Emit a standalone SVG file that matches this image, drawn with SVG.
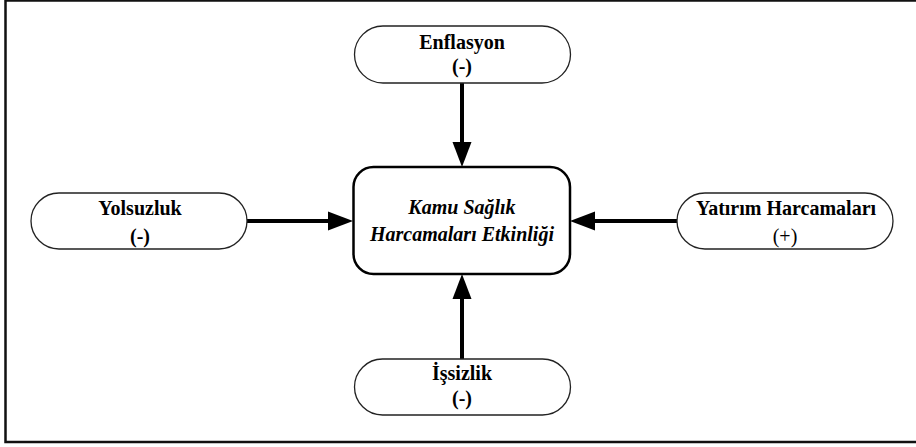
<svg xmlns="http://www.w3.org/2000/svg" width="916" height="447" viewBox="0 0 916 447">
<style>
.pill{fill:#fff;stroke:#222;stroke-width:1.3}
.main{fill:#fff;stroke:#000;stroke-width:2.5}
text{font-family:'Liberation Serif','Tinos','DejaVu Serif',serif;font-size:20px;font-weight:bold;fill:#000;text-anchor:middle}
.it{font-style:italic}
.n{font-weight:normal}
.c{stroke:#000;stroke-width:4;fill:none;marker-end:url(#ah)}
</style>
<defs>
<marker id="ah" markerUnits="userSpaceOnUse" markerWidth="26" markerHeight="20" viewBox="0 -10 26 20" refX="0" refY="0" orient="auto" overflow="visible">
<path d="M0,-9.5 L25,0 L0,9.5 z" fill="#000"/>
</marker>
</defs>
<rect x="5.5" y="0.5" width="915" height="441.5" fill="#fff" stroke="#111" stroke-width="2.5"/>
<g id="connectors">
<line class="c" x1="462" y1="83" x2="462" y2="142"/>
<line class="c" x1="247" y1="221" x2="328" y2="221"/>
<line class="c" x1="677" y1="221" x2="595" y2="221"/>
<line class="c" x1="462" y1="359" x2="462" y2="299"/>
</g>
<g id="enflasyon">
<rect class="pill" x="354.5" y="26" width="216" height="57" rx="28.5" ry="28.5"/>
<text x="462" y="49">Enflasyon</text>
<text x="462" y="73">(-)</text>
</g>
<g id="center">
<rect class="main" x="353.5" y="167" width="216.5" height="107" rx="20" ry="20"/>
<text class="it" x="462" y="214">Kamu Sağlık</text>
<text class="it" x="462" y="241">Harcamaları Etkinliği</text>
</g>
<g id="yolsuzluk">
<rect class="pill" x="31" y="193" width="216" height="56" rx="28" ry="28"/>
<text x="140" y="215">Yolsuzluk</text>
<text x="140" y="243">(-)</text>
</g>
<g id="yatirim">
<rect class="pill" x="677" y="193" width="216" height="56" rx="28" ry="28"/>
<text x="786" y="215">Yatırım Harcamaları</text>
<text class="n" x="785" y="243">(+)</text>
</g>
<g id="issizlik">
<rect class="pill" x="354.5" y="359" width="216" height="56" rx="28" ry="28"/>
<text x="462" y="380">İşsizlik</text>
<text x="462" y="405">(-)</text>
</g>
</svg>
